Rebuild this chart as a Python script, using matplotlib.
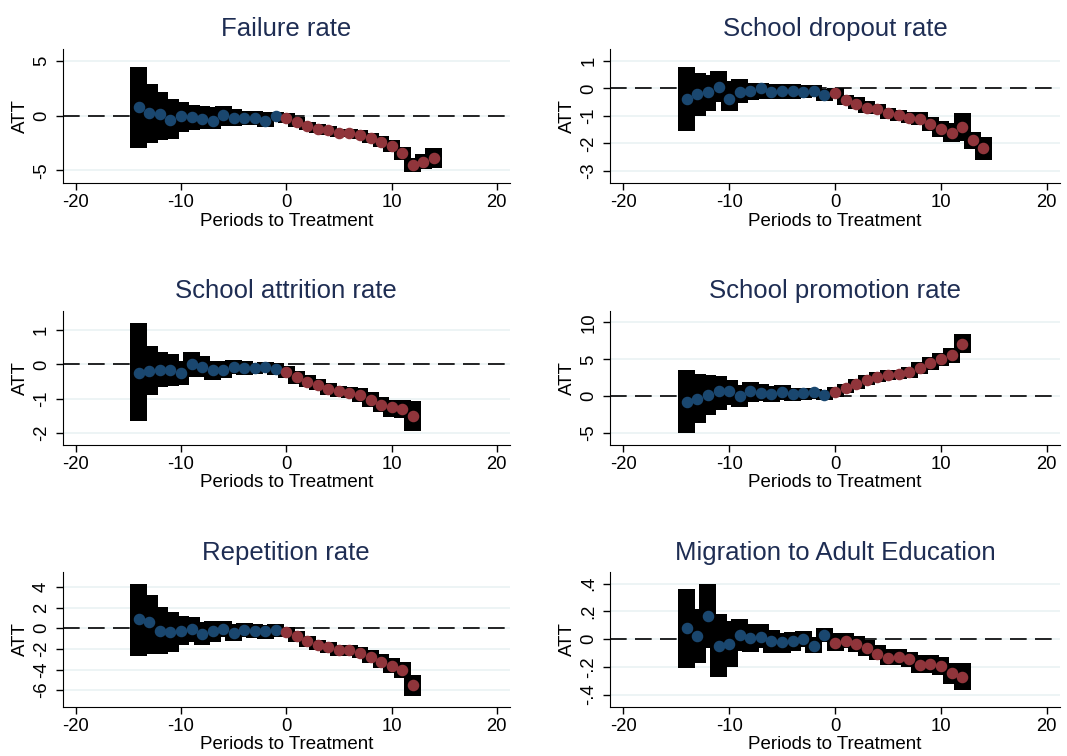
import numpy as np
import matplotlib.pyplot as plt

plt.rcParams['font.family'] = ['Liberation Sans', 'DejaVu Sans']
plt.rcParams['axes.unicode_minus'] = False

# periodos relativos al tratamiento
periodos_14 = list(range(-14, 15))
periodos_12 = list(range(-14, 13))

# Failure rate
att_failure = [0.76, 0.24, 0.15, -0.37, -0.03, -0.09, -0.30, -0.46, 0.06, -0.18, -0.24, -0.18, -0.46, -0.03,
               -0.24, -0.58, -0.95, -1.19, -1.34, -1.62, -1.55, -1.74, -2.01, -2.38, -2.77, -3.45, -4.48, -4.27, -3.90]
hi_failure = [4.42, 2.87, 2.20, 1.50, 1.28, 0.98, 0.88, 0.82, 0.88, 0.58, 0.46, 0.40, 0.34, 0.37,
              0.21, -0.09, -0.55, -0.76, -0.95, -1.19, -1.19, -1.31, -1.55, -1.86, -2.23, -2.84, -3.90, -3.54, -2.93]
lo_failure = [-2.93, -2.47, -2.20, -2.10, -1.46, -1.31, -1.25, -1.25, -0.95, -0.95, -0.85, -0.85, -1.07, -0.46,
              -0.70, -1.07, -1.31, -1.62, -1.77, -1.98, -1.98, -2.16, -2.53, -2.90, -3.29, -4.05, -5.12, -4.91, -4.82]

# School dropout rate
att_dropout = [-0.39, -0.22, -0.15, 0.06, -0.38, -0.12, -0.10, 0.01, -0.15, -0.11, -0.10, -0.15, -0.10, -0.25,
               -0.18, -0.44, -0.57, -0.70, -0.75, -0.90, -0.97, -1.08, -1.12, -1.28, -1.49, -1.61, -1.41, -1.89, -2.18]
hi_dropout = [0.79, 0.55, 0.50, 0.62, 0.25, 0.33, 0.20, 0.18, 0.16, 0.16, 0.16, 0.12, 0.12, -0.02,
              0.00, -0.23, -0.33, -0.45, -0.57, -0.72, -0.79, -0.87, -0.87, -1.05, -1.18, -1.27, -0.90, -1.60, -1.76]
lo_dropout = [-1.56, -1.00, -0.84, -0.50, -0.84, -0.55, -0.42, -0.40, -0.40, -0.40, -0.39, -0.35, -0.33, -0.47,
              -0.32, -0.61, -0.75, -0.90, -0.93, -1.12, -1.18, -1.27, -1.32, -1.54, -1.76, -1.96, -1.93, -2.21, -2.60]

# School attrition rate
att_attrition = [-0.24, -0.19, -0.15, -0.17, -0.25, 0.01, -0.07, -0.17, -0.15, -0.07, -0.11, -0.10, -0.08, -0.12,
                 -0.21, -0.38, -0.50, -0.60, -0.71, -0.77, -0.82, -0.90, -1.02, -1.17, -1.25, -1.29, -1.50]
hi_attrition = [1.19, 0.53, 0.36, 0.29, 0.10, 0.36, 0.24, 0.10, 0.10, 0.13, 0.10, 0.05, 0.07, 0.05,
                -0.05, -0.19, -0.31, -0.43, -0.54, -0.63, -0.65, -0.69, -0.80, -0.96, -1.02, -1.02, -1.06]
lo_attrition = [-1.65, -0.90, -0.67, -0.63, -0.60, -0.37, -0.38, -0.45, -0.40, -0.29, -0.31, -0.27, -0.23, -0.31,
                -0.40, -0.56, -0.67, -0.75, -0.88, -0.94, -0.98, -1.08, -1.25, -1.39, -1.52, -1.56, -1.94]

# School promotion rate
att_promotion = [-0.77, -0.36, 0.23, 0.68, 0.68, 0.00, 0.72, 0.50, 0.27, 0.63, 0.32, 0.50, 0.54, 0.23,
                 0.54, 1.08, 1.71, 2.16, 2.61, 2.93, 3.06, 3.33, 3.83, 4.50, 5.00, 5.54, 7.12]
hi_promotion = [3.51, 2.97, 2.84, 2.80, 2.25, 1.50, 1.89, 1.62, 1.35, 1.50, 1.17, 1.17, 1.04, 0.81,
                1.26, 1.71, 2.39, 2.84, 3.29, 3.60, 3.60, 3.96, 4.59, 5.32, 5.90, 6.58, 8.47]
lo_promotion = [-4.95, -3.60, -2.57, -1.80, -1.22, -1.44, -0.77, -0.63, -0.77, -0.54, -0.63, -0.54, -0.36, -0.54,
                -0.09, 0.45, 1.04, 1.49, 1.94, 2.16, 2.34, 2.52, 2.97, 3.60, 4.14, 4.50, 5.86]

# Repetition rate
att_repetition = [0.91, 0.55, -0.26, -0.36, -0.26, -0.06, -0.55, -0.29, -0.10, -0.42, -0.16, -0.29, -0.32, -0.19,
                  -0.36, -0.74, -1.23, -1.62, -1.78, -2.10, -2.10, -2.36, -2.75, -3.27, -3.66, -4.05, -5.50]
hi_repetition = [4.30, 3.24, 2.04, 1.55, 1.13, 1.07, 0.55, 0.65, 0.65, 0.42, 0.49, 0.42, 0.32, 0.39,
                 0.16, -0.23, -0.74, -1.13, -1.29, -1.62, -1.62, -1.84, -2.10, -2.49, -2.91, -3.24, -4.53]
lo_repetition = [-2.65, -2.52, -2.52, -2.33, -1.65, -1.29, -1.65, -1.29, -0.87, -1.26, -0.87, -0.97, -1.00, -0.87,
                 -0.87, -1.29, -1.78, -2.10, -2.36, -2.69, -2.69, -2.91, -3.33, -3.88, -4.37, -4.85, -6.54]

# Migration to Adult Education
att_migration = [0.080, 0.024, 0.169, -0.048, -0.036, 0.031, 0.007, 0.019, -0.014, -0.019, -0.012, 0.000, -0.046, 0.031,
                 -0.027, -0.010, -0.034, -0.065, -0.106, -0.133, -0.130, -0.145, -0.186, -0.181, -0.193, -0.246, -0.270]
hi_migration = [0.361, 0.217, 0.400, 0.183, 0.128, 0.145, 0.111, 0.111, 0.067, 0.048, 0.055, 0.060, 0.019, 0.082,
                0.043, 0.048, 0.024, -0.005, -0.043, -0.072, -0.072, -0.089, -0.113, -0.113, -0.125, -0.169, -0.169]
lo_migration = [-0.210, -0.169, -0.065, -0.275, -0.200, -0.082, -0.089, -0.065, -0.100, -0.096, -0.082, -0.058, -0.096, -0.017,
                -0.082, -0.065, -0.089, -0.120, -0.149, -0.186, -0.186, -0.200, -0.246, -0.246, -0.258, -0.323, -0.366]

titulos = ['Failure rate', 'School dropout rate', 'School attrition rate',
           'School promotion rate', 'Repetition rate', 'Migration to Adult Education']
series = [(periodos_14, att_failure, lo_failure, hi_failure),
          (periodos_14, att_dropout, lo_dropout, hi_dropout),
          (periodos_12, att_attrition, lo_attrition, hi_attrition),
          (periodos_12, att_promotion, lo_promotion, hi_promotion),
          (periodos_12, att_repetition, lo_repetition, hi_repetition),
          (periodos_12, att_migration, lo_migration, hi_migration)]
yticks = [[-5, 0, 5], [-3, -2, -1, 0, 1], [-2, -1, 0, 1], [-5, 0, 5, 10],
          [-6, -4, -2, 0, 2, 4], [-0.4, -0.2, 0, 0.2, 0.4]]
yticklabels = [['-5', '0', '5'], ['-3', '-2', '-1', '0', '1'], ['-2', '-1', '0', '1'],
               ['-5', '0', '5', '10'], ['-6', '-4', '-2', '0', '2', '4'], ['-.4', '-.2', '0', '.2', '.4']]
ylims = [(-6.2, 6.1), (-3.45, 1.43), (-2.34, 1.56), (-6.6, 11.6), (-7.6, 5.4), (-0.487, 0.482)]

azul = '#1a476f'
rojo = '#90353b'
grid_color = '#eaf2f3'
titulo_color = '#1e2d53'

fig = plt.figure(figsize=(10.67, 7.56), dpi=100)

# posiciones de cada panel (izq, abajo, ancho, alto)
izq = [0.0586, 0.5717]
anchos = [0.4194, 0.4218]
abajos = [0.7575, 0.4114, 0.0652]
alto = 0.1777

for i in range(6):
    fila, col = i // 2, i % 2
    ax = fig.add_axes([izq[col], abajos[fila], anchos[col], alto])
    x, att, lo, hi = series[i]
    x = np.array(x)
    att = np.array(att)
    lo = np.array(lo)
    hi = np.array(hi)

    # intervalos de confianza
    ax.bar(x, hi - lo, bottom=lo, width=1.6, color='black', zorder=2)
    ax.axhline(0, color='black', lw=1.2, ls=(0, (10, 5)), zorder=3)
    pre = x < 0
    ax.plot(x[pre], att[pre], 'o', color=azul, ms=7.3, mec=azul, zorder=4)
    ax.plot(x[~pre], att[~pre], 'o', color=rojo, ms=7.3, mec=rojo, zorder=4)

    ax.set_xlim(-21.25, 21.25)
    ax.set_ylim(*ylims[i])
    ax.set_xticks([-20, -10, 0, 10, 20])
    ax.set_yticks(yticks[i])
    ax.set_yticklabels(yticklabels[i], rotation=90, va='center')
    for t in yticks[i]:
        ax.axhline(t, color=grid_color, lw=1.2, zorder=1)

    ax.spines['top'].set_visible(False)
    ax.spines['right'].set_visible(False)
    ax.tick_params(axis='both', direction='out', length=5, width=1, labelsize=13.3, colors='black')
    ax.tick_params(axis='y', pad=4)
    ax.tick_params(axis='x', pad=3)
    ax.set_xlabel('Periods to Treatment', fontsize=13.5, labelpad=1)
    ax.set_ylabel('ATT', fontsize=13.5, labelpad=3)
    ax.set_title(titulos[i], fontsize=18.5, color=titulo_color, pad=9)

plt.savefig('out.png', dpi=100)
